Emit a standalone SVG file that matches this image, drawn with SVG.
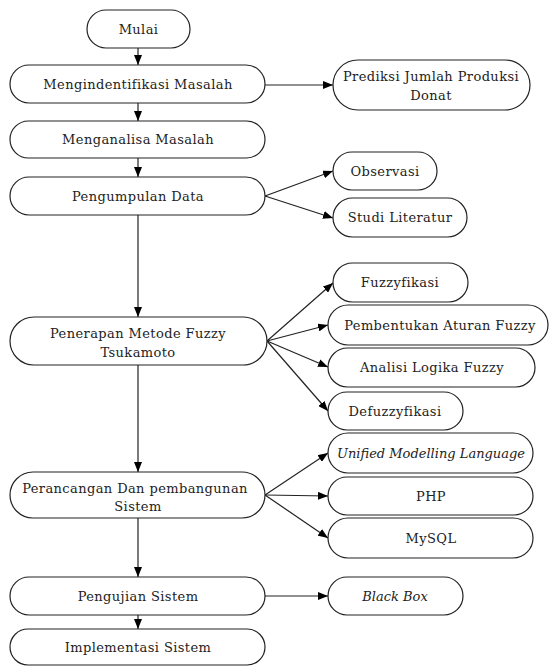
<svg xmlns="http://www.w3.org/2000/svg" width="550" height="666" viewBox="0 0 550 666">
<defs>
<marker id="ah" viewBox="0 0 10 8" refX="10" refY="4" markerWidth="10" markerHeight="8" markerUnits="userSpaceOnUse" orient="auto">
<path d="M0,0 L10,4 L0,8 z" fill="#000"/>
</marker>
</defs>
<style>
.n rect{fill:#fff;stroke:#222;stroke-width:1.2}
text{font-family:"DejaVu Serif","Liberation Serif",serif;font-size:13px;fill:#222;text-anchor:middle;letter-spacing:0.4px}
.i{font-style:italic;letter-spacing:0px}
.c line{stroke:#222;stroke-width:1.2;marker-end:url(#ah)}
</style>
<rect width="550" height="666" fill="#fff"/>
<g class="c" id="connectors">
<line x1="138" y1="48" x2="138" y2="65"/>
<line x1="138" y1="103" x2="138" y2="121"/>
<line x1="138" y1="158" x2="138" y2="177"/>
<line x1="138" y1="215" x2="138" y2="317"/>
<line x1="138" y1="365" x2="138" y2="472"/>
<line x1="138" y1="518" x2="138" y2="577"/>
<line x1="138" y1="615" x2="138" y2="629"/>
<line x1="265" y1="85" x2="333" y2="85"/>
<line x1="265" y1="196" x2="333" y2="171"/>
<line x1="265" y1="196" x2="333" y2="218"/>
<line x1="267" y1="341" x2="333" y2="283"/>
<line x1="267" y1="341" x2="328" y2="325"/>
<line x1="267" y1="341" x2="328" y2="367"/>
<line x1="267" y1="341" x2="328" y2="411"/>
<line x1="265" y1="495" x2="328" y2="453"/>
<line x1="265" y1="495" x2="328" y2="496"/>
<line x1="265" y1="495" x2="328" y2="538"/>
<line x1="265" y1="596" x2="328" y2="596"/>
</g>
<g class="n" id="mulai"><rect x="87" y="10" width="103" height="38" rx="19"/><text x="138.5" y="34">Mulai</text></g>
<g class="n" id="identifikasi"><rect x="10" y="65" width="255" height="38" rx="19"/><text x="138" y="89">Mengindentifikasi Masalah</text></g>
<g class="n" id="analisa"><rect x="10" y="121" width="255" height="37" rx="18.5"/><text x="138" y="144">Menganalisa Masalah</text></g>
<g class="n" id="pengumpulan"><rect x="10" y="177" width="255" height="38" rx="19"/><text x="138" y="201">Pengumpulan Data</text></g>
<g class="n" id="penerapan"><rect x="10" y="317" width="257" height="48" rx="24"/><text x="138" y="338">Penerapan Metode Fuzzy</text><text x="138" y="357">Tsukamoto</text></g>
<g class="n" id="perancangan"><rect x="10" y="472" width="255" height="46" rx="23"/><text x="135" y="493">Perancangan Dan pembangunan</text><text x="138" y="511">Sistem</text></g>
<g class="n" id="pengujian"><rect x="10" y="577" width="255" height="38" rx="19"/><text x="138" y="601">Pengujian Sistem</text></g>
<g class="n" id="implementasi"><rect x="10" y="629" width="255" height="36" rx="18"/><text x="138" y="652">Implementasi Sistem</text></g>
<g class="n" id="prediksi"><rect x="333" y="60" width="197" height="50" rx="25"/><text x="431" y="81">Prediksi Jumlah Produksi</text><text x="431" y="100">Donat</text></g>
<g class="n" id="observasi"><rect x="333" y="152" width="104" height="38" rx="19"/><text x="385" y="176">Observasi</text></g>
<g class="n" id="studi"><rect x="333" y="198" width="134" height="39" rx="19.5"/><text x="400" y="222">Studi Literatur</text></g>
<g class="n" id="fuzzyfikasi"><rect x="333" y="263" width="135" height="39" rx="19.5"/><text x="400" y="287">Fuzzyfikasi</text></g>
<g class="n" id="aturan"><rect x="328" y="305" width="220" height="40" rx="20"/><text x="440" y="330">Pembentukan Aturan Fuzzy</text></g>
<g class="n" id="logika"><rect x="328" y="348" width="207" height="39" rx="19.5"/><text x="432" y="372">Analisi Logika Fuzzy</text></g>
<g class="n" id="defuzzyfikasi"><rect x="328" y="392" width="135" height="38" rx="19"/><text x="395" y="416">Defuzzyfikasi</text></g>
<g class="n" id="uml"><rect x="328" y="433" width="205" height="40" rx="20"/><text class="i" x="431" y="458">Unified Modelling Language</text></g>
<g class="n" id="php"><rect x="328" y="477" width="205" height="38" rx="19"/><text x="431" y="501">PHP</text></g>
<g class="n" id="mysql"><rect x="328" y="518" width="205" height="40" rx="20"/><text x="431" y="543">MySQL</text></g>
<g class="n" id="blackbox"><rect x="328" y="577" width="135" height="38" rx="19"/><text class="i" x="395" y="601">Black Box</text></g>
</svg>
